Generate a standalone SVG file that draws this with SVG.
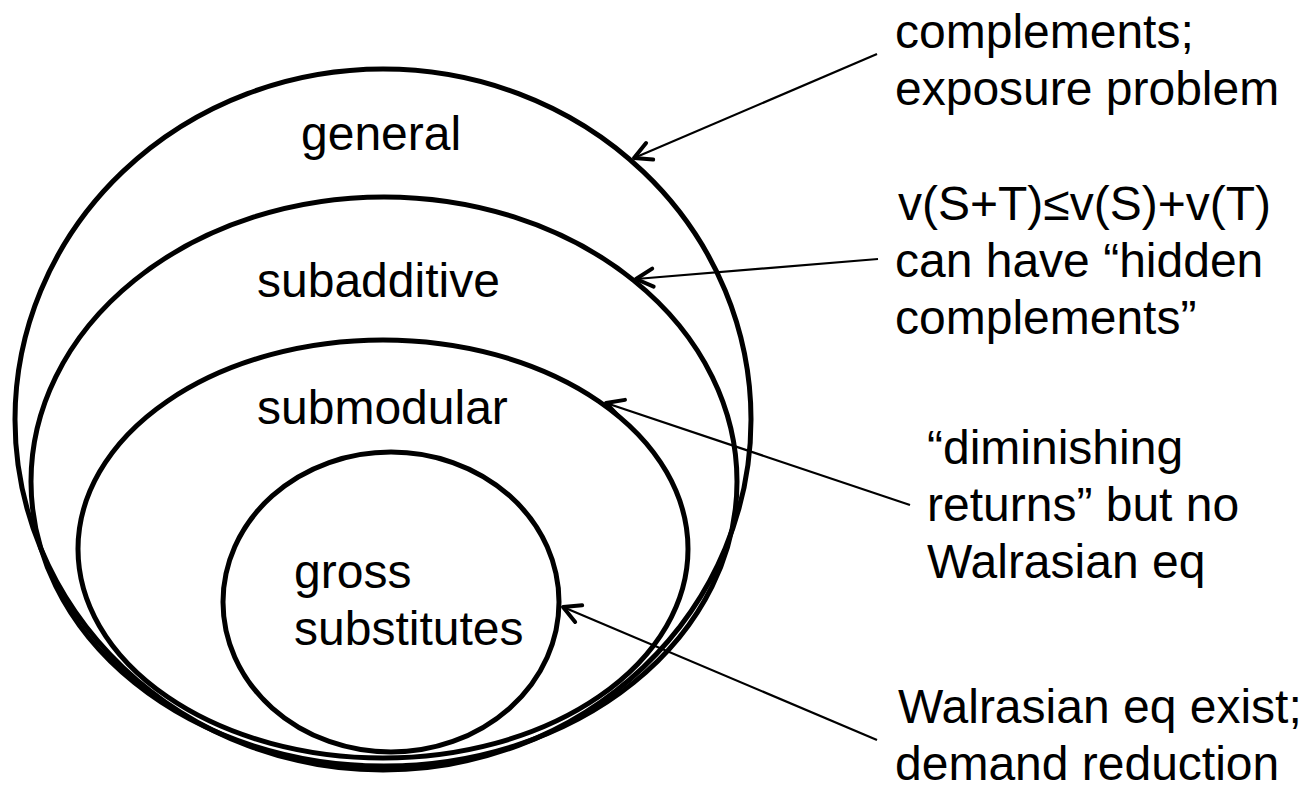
<svg xmlns="http://www.w3.org/2000/svg" width="1307" height="789" viewBox="0 0 1307 789">
  <style>
    .set { fill: none; stroke: #000; stroke-width: 5; }
    .conn { fill: none; stroke: #000; stroke-width: 2.2; marker-end: url(#arr); }
    text { font-family: "Liberation Sans", Arial, Helvetica, sans-serif; font-size: 48px; fill: #000; }
  </style>
  <defs>
    <marker id="arr" markerUnits="userSpaceOnUse" markerWidth="40" markerHeight="40" viewBox="-20 -20 40 40" refX="0" refY="0" orient="auto" overflow="visible">
      <path d="M-17,-9 L0,0 L-17,9" fill="none" stroke="#000" stroke-width="4" stroke-linecap="round" stroke-linejoin="round"/>
    </marker>
  </defs>
  <rect width="1307" height="789" fill="#fff"/>

  <g id="general">
    <ellipse class="set" cx="383" cy="419.5" rx="368" ry="350.5"/>
    <text x="301" y="150">general</text>
  </g>
  <g id="subadditive">
    <ellipse class="set" cx="384" cy="481.5" rx="353" ry="284.5"/>
    <text x="257" y="297">subadditive</text>
  </g>
  <g id="submodular">
    <ellipse class="set" cx="383" cy="549" rx="305" ry="209"/>
    <text x="257" y="424">submodular</text>
  </g>
  <g id="gross-substitutes">
    <ellipse class="set" cx="391" cy="602" rx="168" ry="150"/>
    <text x="294" y="588">gross</text>
    <text x="294" y="645">substitutes</text>
  </g>

  <g id="note-general">
    <text x="895" y="48">complements;</text>
    <text x="895" y="105">exposure problem</text>
  </g>
  <g id="note-subadditive">
    <text x="898" y="220">v(S+T)≤v(S)+v(T)</text>
    <text x="895" y="277">can have “hidden</text>
    <text x="895" y="334">complements”</text>
  </g>
  <g id="note-submodular">
    <text x="927" y="464">“diminishing</text>
    <text x="927" y="521">returns” but no</text>
    <text x="927" y="578">Walrasian eq</text>
  </g>
  <g id="note-gross">
    <text x="898" y="723">Walrasian eq exist;</text>
    <text x="895" y="780">demand reduction</text>
  </g>

  <g id="connectors">
    <line class="conn" x1="877" y1="54" x2="634" y2="158"/>
    <line class="conn" x1="878" y1="259" x2="636" y2="279"/>
    <line class="conn" x1="910" y1="505" x2="606" y2="403"/>
    <line class="conn" x1="877" y1="740" x2="563" y2="607"/>
  </g>
</svg>
